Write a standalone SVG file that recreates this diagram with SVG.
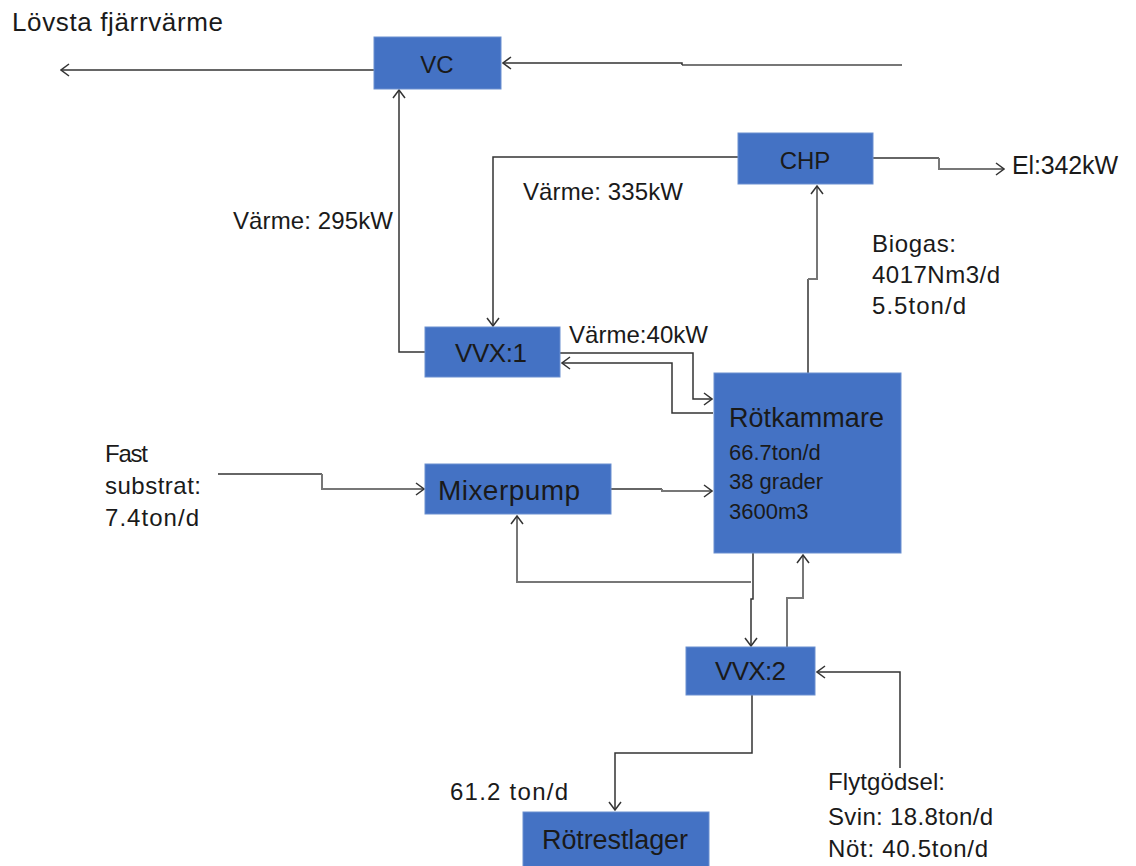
<svg xmlns="http://www.w3.org/2000/svg" width="1136" height="866" viewBox="0 0 1136 866">
<defs>
<marker id="arr" viewBox="-10 -7 11 14" refX="0" refY="0" markerWidth="11" markerHeight="14" markerUnits="userSpaceOnUse" orient="auto">
<path d="M-8,-6 L0,0 L-8,6" fill="none" stroke="#333" stroke-width="1.5"/>
</marker>
<style>
.box{fill:#4472C4;stroke:#6a8fd0;stroke-width:1}
.t{font-family:"Liberation Sans",Arial,sans-serif;fill:#1a1a1a}
.bl{font-size:26px}
.lb{font-size:24px}
.c{fill:none;stroke:#333;stroke-width:1.5}
.g{fill:none;stroke:#777;stroke-width:2}
</style>
</defs>
<rect width="1136" height="866" fill="#fff"/>
<g id="connectors">
<polyline class="c" points="374,70 61,70" marker-end="url(#arr)"/>
<polyline class="g" points="902,65 682,65"/>
<polyline class="c" points="682,65 682,63 503,63" marker-end="url(#arr)"/>
<polyline class="c" points="738,157 493,157 493,326" marker-end="url(#arr)"/>
<polyline class="c" points="425,352 399,352 399,90" marker-end="url(#arr)"/>
<polyline class="c" points="873,158 939,158"/>
<polyline class="g" points="939,158 939,169 1004,169" marker-end="url(#arr)"/>
<polyline class="c" points="808,373 808,279"/>
<polyline class="g" points="808,279 817,279 817,186" marker-end="url(#arr)"/>
<polyline class="c" points="560,353 693,353 693,399 712,399" marker-end="url(#arr)"/>
<polyline class="c" points="713,413 672,413 672,363 562,363" marker-end="url(#arr)"/>
<polyline class="c" points="218,474 322,474"/>
<polyline class="g" points="322,474 322,489 424,489" marker-end="url(#arr)"/>
<polyline class="c" points="611,489 662,489"/>
<polyline class="g" points="662,489 662,491 712,491" marker-end="url(#arr)"/>
<polyline class="g" points="751,582 517,582 517,516" marker-end="url(#arr)"/>
<polyline class="c" points="753,553 753,599 751,599 751,646" marker-end="url(#arr)"/>
<polyline class="g" points="787,647 787,598 803,598 803,555" marker-end="url(#arr)"/>
<polyline class="c" points="900,768 900,672 817,672" marker-end="url(#arr)"/>
<polyline class="c" points="752,695 752,753 615,753 615,810" marker-end="url(#arr)"/>
</g>
<g id="labels">
<text class="t" x="12" y="31" font-size="26" textLength="211">Lövsta fjärrvärme</text>
<text class="t" x="1012" y="174" font-size="25" textLength="106">El:342kW</text>
<text class="t lb" x="523" y="200" textLength="160">Värme: 335kW</text>
<text class="t lb" x="233" y="229" textLength="160">Värme: 295kW</text>
<text class="t lb" x="872" y="252" textLength="84">Biogas:</text>
<text class="t lb" x="872" y="283" textLength="128">4017Nm3/d</text>
<text class="t lb" x="872" y="314" textLength="94">5.5ton/d</text>
<text class="t lb" x="569" y="343" textLength="139">Värme:40kW</text>
<text class="t lb" x="105" y="462" textLength="43">Fast</text>
<text class="t lb" x="105" y="494" textLength="96">substrat:</text>
<text class="t lb" x="105" y="526" textLength="94">7.4ton/d</text>
<text class="t lb" x="450" y="800" textLength="118">61.2 ton/d</text>
<text class="t lb" x="828" y="790" textLength="117">Flytgödsel:</text>
<text class="t lb" x="828" y="825" textLength="165">Svin: 18.8ton/d</text>
<text class="t lb" x="828" y="857" textLength="160">Nöt: 40.5ton/d</text>
</g>
<g id="VC">
<rect class="box" x="374" y="37" width="127" height="52"/>
<text class="t" x="437" y="73" font-size="24" text-anchor="middle">VC</text>
</g>
<g id="CHP">
<rect class="box" x="738" y="133" width="135" height="51"/>
<text class="t" x="805" y="169" font-size="24" text-anchor="middle">CHP</text>
</g>
<g id="VVX1">
<rect class="box" x="425" y="327" width="135" height="50"/>
<text class="t bl" x="455" y="362" textLength="72">VVX:1</text>
</g>
<g id="Rotkammare">
<rect class="box" x="714" y="373" width="187" height="180"/>
<text class="t" x="729" y="427" font-size="27" textLength="155">Rötkammare</text>
<text class="t" x="729" y="460" font-size="22">66.7ton/d</text>
<text class="t" x="729" y="489" font-size="22">38 grader</text>
<text class="t" x="729" y="519" font-size="22">3600m3</text>
</g>
<g id="Mixerpump">
<rect class="box" x="425" y="464" width="186" height="50"/>
<text class="t" x="438" y="500" font-size="28" textLength="142">Mixerpump</text>
</g>
<g id="VVX2">
<rect class="box" x="686" y="647" width="129" height="48"/>
<text class="t bl" x="715" y="680" textLength="71">VVX:2</text>
</g>
<g id="Rotrestlager">
<rect class="box" x="523" y="812" width="186" height="60"/>
<text class="t" x="542" y="849" font-size="27" textLength="146">Rötrestlager</text>
</g>
</svg>
